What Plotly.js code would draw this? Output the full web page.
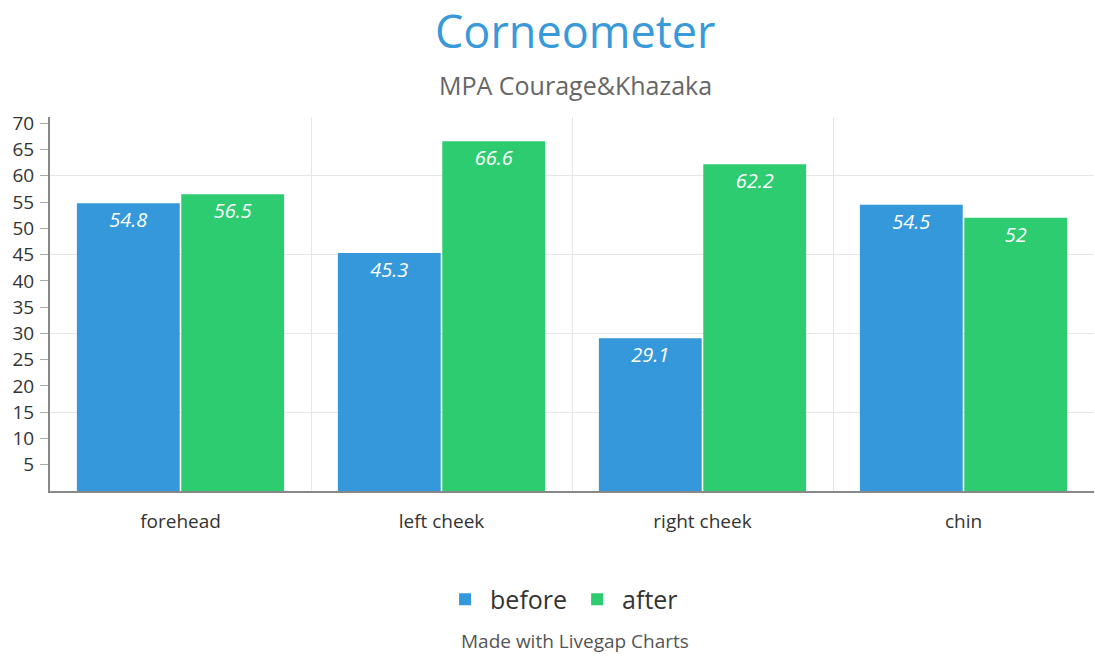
<!DOCTYPE html>
<html><head><meta charset="utf-8">
<script src="https://cdn.plot.ly/plotly-3.0.1.min.js"></script>
<style>html,body{margin:0;padding:0;background:#fff}#chart{width:1095px;height:657px}</style>
</head><body><div id="chart"></div>
<script>
const categories = ["forehead", "left cheek", "right cheek", "chin"];
const beforeValues = [54.8, 45.3, 29.1, 54.5];
const afterValues = [56.5, 66.6, 62.2, 52];
const yTickVals = [5,10,15,20,25,30,35,40,45,50,55,60,65,70];
const chartTitle = "Corneometer";
const chartSubtitle = "MPA Courage&amp;Khazaka";
const creditText = "Made with Livegap Charts";

const font = "Open Sans, sans-serif";
const traces = [
  {type:"scatter", x:[0], y:[0], xaxis:"x2", yaxis:"y2", mode:"markers",
   marker:{opacity:0}, showlegend:false, hoverinfo:"skip"},
  {type:"bar", name:"before", x:categories, y:beforeValues, marker:{color:"#3498db"},
   text:beforeValues.map(String), textposition:"inside", insidetextanchor:"end",
   textfont:{family:font, size:20, color:"#ffffff", style:"italic"}, hoverinfo:"y"},
  {type:"bar", name:"after", x:categories, y:afterValues, marker:{color:"#2ecc71"},
   text:afterValues.map(String), textposition:"inside", insidetextanchor:"end",
   textfont:{family:font, size:20, color:"#ffffff", style:"italic"}, hoverinfo:"y"}
];
const layout = {
  width:1095, height:657,
  margin:{l:50, r:1, t:117, b:166},
  font:{family:font, color:"#333"},
  paper_bgcolor:"#fff", plot_bgcolor:"#fff",
  bargap:0.2, bargroupgap:0.015,
  xaxis:{type:"category", showgrid:false, showline:true, linecolor:"#888", linewidth:2,
         tickfont:{family:font, size:19, color:"#333"}, ticks:"", ticklabelstandoff:12, zeroline:false},
  xaxis2:{overlaying:"x", range:[-0.5,3.5], tick0:0.5, dtick:1, showgrid:true,
          gridcolor:"#e6e6e6", showticklabels:false, ticks:"", zeroline:false, side:"bottom"},
  yaxis:{range:[0,71.2], tickvals:yTickVals, showgrid:false, showline:true, linecolor:"#888", linewidth:2,
         ticks:"outside", ticklen:8, tickcolor:"#aaa", ticklabelstandoff:2,
         tickfont:{family:font, size:19, color:"#333"}, zeroline:false},
  yaxis2:{overlaying:"y", range:[0,71.2], tickvals:[15,30,45,60], showgrid:true, gridcolor:"#e6e6e6",
          showticklabels:false, ticks:"", zeroline:false},
  legend:{orientation:"h", x:0.49, xanchor:"center", y:-0.29, yanchor:"middle",
          font:{family:font, size:25, color:"#333"}, itemwidth:40},
  annotations:[
    {text:chartTitle, xref:"paper", yref:"paper", x:0.503, y:1.232, xanchor:"center", yanchor:"middle",
     showarrow:false, font:{family:font, size:45, color:"#3a9ad9"}},
    {text:chartSubtitle, xref:"paper", yref:"paper", x:0.503, y:1.085, xanchor:"center", yanchor:"middle",
     showarrow:false, font:{family:font, size:25, color:"#666"}},
    {text:creditText, xref:"paper", yref:"paper", x:0.503, y:-0.40,
     xanchor:"center", yanchor:"middle", showarrow:false, font:{family:font, size:19, color:"#555"}}
  ]
};
Plotly.newPlot("chart", traces, layout, {displayModeBar:false});
</script></body></html>
